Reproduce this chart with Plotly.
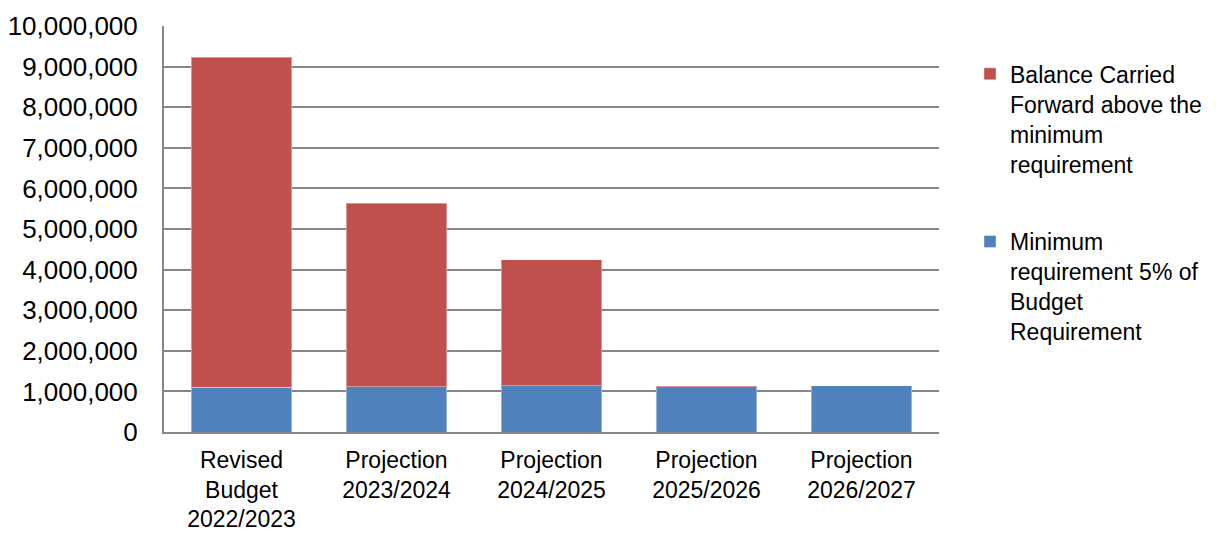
import plotly.graph_objects as go

categories = ["Revised<br>Budget<br>2022/2023", "Projection<br>2023/2024", "Projection<br>2024/2025",
              "Projection<br>2025/2026", "Projection<br>2026/2027"]
minimum_req = [1100000, 1115000, 1140000, 1115000, 1140000]
balance_above = [8130000, 4515000, 3100000, 25000, 0]
tick_vals = [0, 1000000, 2000000, 3000000, 4000000, 5000000, 6000000, 7000000, 8000000, 9000000, 10000000]
tick_text = ["0", "1,000,000", "2,000,000", "3,000,000", "4,000,000", "5,000,000", "6,000,000",
             "7,000,000", "8,000,000", "9,000,000", "10,000,000"]

FONT = "Liberation Sans, Arial, sans-serif"

fig = go.Figure()
fig.add_trace(go.Bar(
    x=categories, y=minimum_req,
    name="Minimum<br>requirement 5% of<br>Budget<br>Requirement",
    marker=dict(color="#4F81BD", line=dict(color="rgba(255,255,255,0.4)", width=1)),
    legendgroup="b", legendrank=2,
))
fig.add_trace(go.Bar(
    x=categories, y=balance_above,
    name="Balance Carried<br>Forward above the<br>minimum<br>requirement",
    marker=dict(color="#C0504D", line=dict(color="rgba(255,255,255,0.4)", width=1)),
    legendgroup="a", legendrank=1,
))

# page body has an 8px margin, so the figure is sized/offset to compensate
fig.update_layout(
    barmode="stack",
    bargap=0.35,
    width=1208, height=525,
    margin=dict(l=156, r=277, t=18, b=101, autoexpand=False),
    plot_bgcolor="white", paper_bgcolor="white",
    font=dict(family=FONT, size=24, color="black"),
    legend=dict(
        x=1.04, y=0.935, xanchor="left", yanchor="top",
        traceorder="grouped", tracegroupgap=45,
        valign="top",
        font=dict(family=FONT, size=23, color="black"),
        itemwidth=30,
    ),
    xaxis=dict(
        showline=True, linecolor="#868686", linewidth=2,
        ticks="", tickfont=dict(family=FONT, size=23, color="black"),
        ticklabelstandoff=6,
        showgrid=False, automargin=False,
    ),
    yaxis=dict(
        range=[0, 10000000],
        tickvals=tick_vals, ticktext=tick_text,
        showline=True, linecolor="#868686", linewidth=2,
        showgrid=True, gridcolor="#868686", gridwidth=2,
        ticks="", tickfont=dict(family=FONT, size=26, color="black"),
        ticklabelstandoff=19,
        zeroline=False, automargin=False,
    ),
)

fig.write_html("out.html")
